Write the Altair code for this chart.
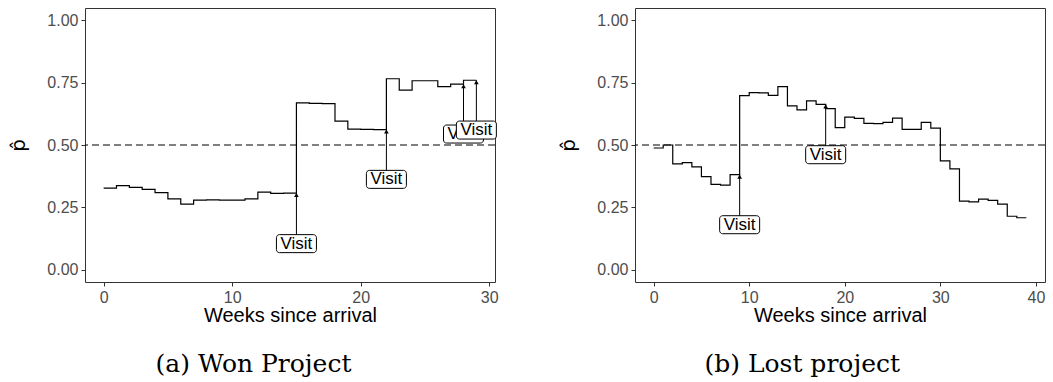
import altair as alt
import pandas as pd

# ---- data ----
won_weeks = [0, 1, 2, 3, 4, 5, 6, 7, 8, 9, 10, 11, 12, 13, 14, 15, 16, 17, 18, 19,
             20, 21, 22, 23, 24, 25, 26, 27, 28, 29]
won_p = [0.327, 0.337, 0.330, 0.322, 0.309, 0.284, 0.263, 0.279, 0.280, 0.279,
         0.279, 0.284, 0.311, 0.306, 0.307, 0.669, 0.667, 0.666, 0.596, 0.564,
         0.563, 0.562, 0.766, 0.720, 0.758, 0.758, 0.734, 0.744, 0.760, 0.760]

lost_weeks = [0, 1, 2, 3, 4, 5, 6, 7, 8, 9, 10, 11, 12, 13, 14, 15, 16, 17, 18, 19,
              20, 21, 22, 23, 24, 25, 26, 27, 28, 29, 30, 31, 32, 33, 34, 35, 36, 37, 38, 39]
lost_p = [0.488, 0.500, 0.424, 0.429, 0.412, 0.373, 0.342, 0.339, 0.381, 0.698,
          0.710, 0.709, 0.699, 0.734, 0.657, 0.641, 0.677, 0.663, 0.646, 0.570,
          0.612, 0.607, 0.587, 0.586, 0.591, 0.608, 0.563, 0.563, 0.591, 0.568,
          0.436, 0.404, 0.275, 0.272, 0.283, 0.278, 0.263, 0.214, 0.208, 0.208]

won_visit_weeks = [15, 22, 28, 29]
won_visit_tip = [0.307, 0.562, 0.744, 0.760]
won_visit_label_y = [0.104, 0.362, 0.544, 0.560]

lost_visit_weeks = [9, 18]
lost_visit_tip = [0.381, 0.663]
lost_visit_label_y = [0.180, 0.461]

y_ticks = [0, 0.25, 0.5, 0.75, 1.0]
threshold = [0.5]

SANS = "Liberation Sans"
W, H = 410, 274


def panel(weeks, p, vweeks, vtip, vlab, xdom, xticks, caption):
    xsc = alt.Scale(domain=xdom, nice=False, zero=False)
    ysc = alt.Scale(domain=[-0.05, 1.05], nice=False, zero=False)
    xax = alt.Axis(values=xticks, title="Weeks since arrival", format="d")
    yax = alt.Axis(values=y_ticks, title="p\u0302", format=".2f")

    line_df = pd.DataFrame({"week": weeks, "p": p})
    visit_df = pd.DataFrame({"week": vweeks, "tip": vtip, "lab": vlab})
    thr_df = pd.DataFrame({"y": threshold})

    base_line = alt.Chart(line_df).mark_line(
        interpolate="step-after", color="black", strokeWidth=1.2
    ).encode(
        x=alt.X("week:Q", scale=xsc, axis=xax),
        y=alt.Y("p:Q", scale=ysc, axis=yax),
    )
    hline = alt.Chart(thr_df).mark_rule(
        color="black", strokeDash=[7, 4], strokeWidth=1.1
    ).encode(y=alt.Y("y:Q", scale=ysc))

    arrows = alt.Chart(visit_df).mark_rule(color="black", strokeWidth=1).encode(
        x=alt.X("week:Q", scale=xsc),
        y=alt.Y("lab:Q", scale=ysc),
        y2="tip:Q",
    )
    heads = alt.Chart(visit_df).mark_point(
        shape="triangle-up", filled=True, color="black", size=22, opacity=1, yOffset=2
    ).encode(x=alt.X("week:Q", scale=xsc), y=alt.Y("tip:Q", scale=ysc))

    layers = [base_line, hline, arrows, heads]
    for i in range(len(vweeks)):
        sub = visit_df.iloc[[i]]
        box = alt.Chart(sub).mark_rect(
            width=40, height=18, cornerRadius=3, fill="white",
            stroke="black", strokeWidth=1
        ).encode(x=alt.X("week:Q", scale=xsc), y=alt.Y("lab:Q", scale=ysc))
        txt = alt.Chart(sub).mark_text(
            text="Visit", font=SANS, fontSize=17, color="black", baseline="middle"
        ).encode(x=alt.X("week:Q", scale=xsc), y=alt.Y("lab:Q", scale=ysc))
        layers += [box, txt]

    return alt.layer(*layers).properties(
        width=W, height=H,
        title=alt.TitleParams(
            caption, orient="bottom", anchor="middle", frame="bounds",
            font="DejaVu Serif", fontSize=25, fontWeight="normal", color="black",
            offset=27
        ),
    )


left = panel(won_weeks, won_p, won_visit_weeks, won_visit_tip, won_visit_label_y,
             [-1.45, 30.45], [0, 10, 20, 30], "(a) Won Project")
right = panel(lost_weeks, lost_p, lost_visit_weeks, lost_visit_tip, lost_visit_label_y,
              [-1.95, 40.95], [0, 10, 20, 30, 40], "(b) Lost project")

chart = alt.hconcat(left, right, spacing=59).properties(
    padding={"left": 8, "top": 7, "right": 0, "bottom": 0}
).configure_view(
    stroke="#333333", strokeWidth=1
).configure_axis(
    domain=False, grid=False, ticks=True, tickColor="#333333", tickSize=4,
    labelFont=SANS, labelFontSize=16, labelColor="#4D4D4D", labelPadding=3,
    titleFont=SANS, titleFontSize=20, titleColor="black", titleFontWeight="normal",
).configure_axisX(titlePadding=0).configure_axisY(titlePadding=18, titleFont="DejaVu Sans")

chart.save("out.html", embed_options={"renderer": "svg", "actions": False})
